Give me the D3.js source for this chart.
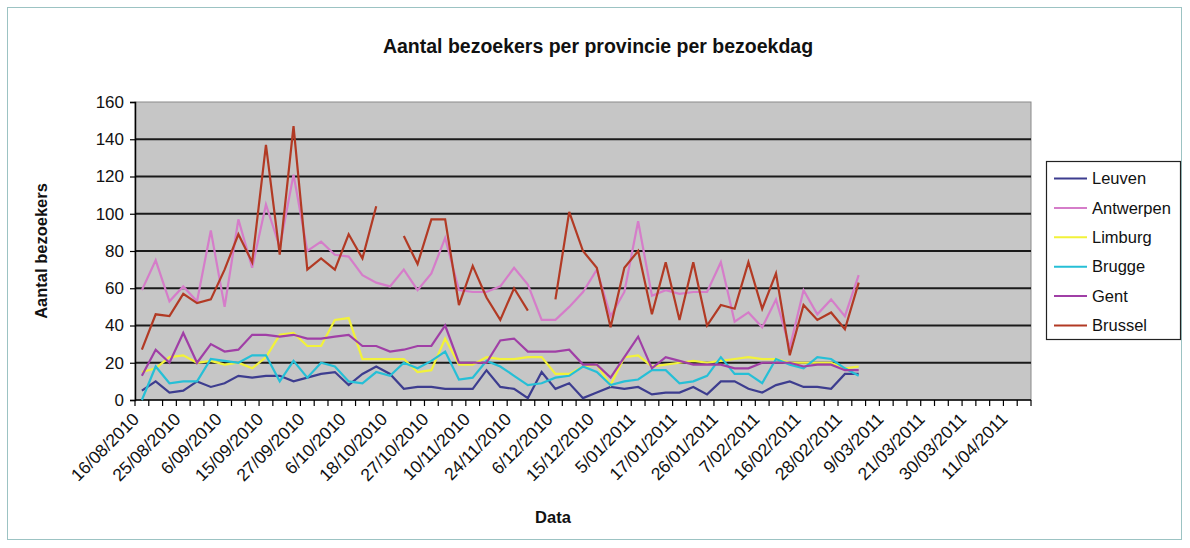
<!DOCTYPE html>
<html>
<head>
<meta charset="utf-8">
<script src="https://cdn.jsdelivr.net/npm/d3@7/dist/d3.min.js"></script>
<style>
  html, body { margin: 0; padding: 0; background: #ffffff; }
  svg { display: block; font-family: "Liberation Sans", Arial, sans-serif; }
</style>
</head>
<body>
<svg id="chart" width="1190" height="548"></svg>
<script>
// Visit days (one category per day)
const dates = [
  "16/08/2010","18/08/2010","23/08/2010","25/08/2010","30/08/2010","1/09/2010",
  "6/09/2010","8/09/2010","13/09/2010","15/09/2010","20/09/2010","22/09/2010",
  "27/09/2010","29/09/2010","4/10/2010","6/10/2010","11/10/2010","13/10/2010",
  "18/10/2010","20/10/2010","25/10/2010","27/10/2010","3/11/2010","8/11/2010",
  "10/11/2010","17/11/2010","22/11/2010","24/11/2010","29/11/2010","1/12/2010",
  "6/12/2010","8/12/2010","13/12/2010","15/12/2010","20/12/2010","3/01/2011",
  "5/01/2011","10/01/2011","12/01/2011","17/01/2011","19/01/2011","24/01/2011",
  "26/01/2011","31/01/2011","2/02/2011","7/02/2011","9/02/2011","14/02/2011",
  "16/02/2011","21/02/2011","23/02/2011","28/02/2011","2/03/2011","7/03/2011",
  "9/03/2011","14/03/2011","16/03/2011","21/03/2011","23/03/2011","28/03/2011",
  "30/03/2011","4/04/2011","6/04/2011","11/04/2011","13/04/2011"
];

// Visitors per province (null = no value that day)
const leuven = [5,10,4,5,10,7,9,13,12,13,13,10,12,14,15,8,14,18,14,6,7,7,6,6,6,16,7,6,1,15,6,9,1,4,7,6,7,3,4,4,7,3,10,10,6,4,8,10,7,7,6,14,14];
const antwerpen = [59,75,53,61,53,91,50,97,71,105,82,121,80,85,78,77,67,63,61,70,59,68,87,59,58,58,61,71,62,43,43,50,58,70,45,58,96,56,59,57,58,58,74,42,47,39,54,28,59,46,54,45,67];
const limburg = [15,17,23,24,20,21,19,20,17,23,35,36,29,29,43,44,22,22,22,22,15,16,33,19,19,23,22,22,23,23,14,14,18,19,8,23,24,18,19,20,21,20,21,22,23,22,22,20,20,20,20,17,18];
const brugge = [0,18,9,10,10,22,21,20,24,24,10,21,12,20,18,10,9,15,13,20,17,21,26,11,12,21,18,13,8,9,12,13,18,15,8,10,11,16,16,9,10,13,23,14,14,9,22,19,17,23,22,17,13];
const gent = [13,27,20,36,20,30,26,27,35,35,34,35,33,33,34,35,29,29,26,27,29,29,40,20,20,20,32,33,26,26,26,27,19,19,12,23,34,17,23,21,19,19,19,17,17,20,20,20,18,19,19,16,16];
const brussel = [27,46,45,57,52,54,70,89,74,137,78,147,70,76,70,89,76,104,null,88,73,97,97,51,72,55,43,60,48,null,54,101,80,71,39,71,80,46,74,43,74,40,51,49,74,49,68,24,51,43,47,38,63];

const seriesNames = ["Leuven","Antwerpen","Limburg","Brugge","Gent","Brussel"];
const seriesValues = [leuven, antwerpen, limburg, brugge, gent, brussel];
const seriesColors = ["#3d3d8f","#d57dc9","#f2f23a","#26bfd6","#a03fa6","#b23a24"];

const yTicks = [0,20,40,60,80,100,120,140,160];
const labelEvery = 3;

const svg = d3.select("#chart");

// outer frame
svg.append("rect")
  .attr("x", 7.5).attr("y", 7.5)
  .attr("width", 1174).attr("height", 532)
  .attr("fill", "#ffffff")
  .attr("stroke", "#9cc3c3").attr("stroke-width", 1);

const plot = { left: 135, right: 1031, top: 102, bottom: 400 };

const x = d3.scaleBand()
  .domain(dates)
  .range([plot.left, plot.right])
  .padding(0);

const y = d3.scaleLinear()
  .domain([0, 160])
  .range([plot.bottom, plot.top]);

// plot background
svg.append("rect")
  .attr("x", plot.left).attr("y", plot.top)
  .attr("width", plot.right - plot.left)
  .attr("height", plot.bottom - plot.top)
  .attr("fill", "#c6c6c6")
  .attr("stroke", "#8a8a8a").attr("stroke-width", 1);

// horizontal gridlines
svg.append("g")
  .selectAll("line")
  .data(yTicks.filter(v => v > 0 && v < 160))
  .join("line")
  .attr("x1", plot.left).attr("x2", plot.right)
  .attr("y1", d => y(d)).attr("y2", d => y(d))
  .attr("stroke", "#1a1a1a").attr("stroke-width", 2.2);

// y axis
const yAxis = svg.append("g")
  .attr("transform", `translate(${plot.left},0)`)
  .call(d3.axisLeft(y).tickValues(yTicks).tickSize(5).tickPadding(6).tickFormat(d3.format("d")));
yAxis.select(".domain").attr("stroke", "#000").attr("stroke-width", 1.5);
yAxis.selectAll(".tick line").attr("stroke", "#000").attr("stroke-width", 1.2);
yAxis.selectAll(".tick text")
  .attr("font-size", 17).attr("fill", "#111")
  .attr("font-family", "Liberation Sans, Arial, sans-serif");

// x axis: tick marks at category boundaries
const xg = svg.append("g");
xg.append("line")
  .attr("x1", plot.left).attr("x2", plot.right)
  .attr("y1", plot.bottom).attr("y2", plot.bottom)
  .attr("stroke", "#000").attr("stroke-width", 1.5);
const boundaries = dates.map(d => x(d)).concat([plot.right]);
xg.selectAll("line.tick")
  .data(boundaries)
  .join("line")
  .attr("class", "tick")
  .attr("x1", d => d).attr("x2", d => d)
  .attr("y1", plot.bottom).attr("y2", plot.bottom + 6)
  .attr("stroke", "#000").attr("stroke-width", 1.2);

// x tick labels, every third category, rotated
xg.selectAll("text")
  .data(dates.filter((d, i) => i % labelEvery === 0))
  .join("text")
  .attr("transform", d => `translate(${x(d) + x.bandwidth() / 2 - 6},${plot.bottom + 16}) rotate(-45)`)
  .attr("text-anchor", "end")
  .attr("dy", "0.35em")
  .attr("font-size", 17.5)
  .attr("fill", "#111")
  .text(d => d);

// series lines
const line = d3.line()
  .defined(v => v !== null)
  .x((v, i) => x(dates[i]) + x.bandwidth() / 2)
  .y(v => y(v));

svg.append("g")
  .selectAll("path")
  .data(seriesValues)
  .join("path")
  .attr("d", v => line(v))
  .attr("fill", "none")
  .attr("stroke", (v, i) => seriesColors[i])
  .attr("stroke-width", 2.2)
  .attr("stroke-linejoin", "miter");

// title
svg.append("text")
  .attr("x", 598).attr("y", 53)
  .attr("text-anchor", "middle")
  .attr("font-size", 19.5).attr("font-weight", "bold")
  .attr("fill", "#111")
  .text("Aantal bezoekers per provincie per bezoekdag");

// axis titles
svg.append("text")
  .attr("transform", "translate(47,251) rotate(-90)")
  .attr("text-anchor", "middle")
  .attr("font-size", 16.5).attr("font-weight", "bold")
  .attr("fill", "#111")
  .text("Aantal bezoekers");

svg.append("text")
  .attr("x", 553).attr("y", 523)
  .attr("text-anchor", "middle")
  .attr("font-size", 16.5).attr("font-weight", "bold")
  .attr("fill", "#111")
  .text("Data");

// legend
const legend = svg.append("g");
legend.append("rect")
  .attr("x", 1046.5).attr("y", 161.5)
  .attr("width", 134).attr("height", 178)
  .attr("fill", "#ffffff")
  .attr("stroke", "#222").attr("stroke-width", 1.2);
const items = legend.selectAll("g.item")
  .data(seriesNames)
  .join("g")
  .attr("class", "item")
  .attr("transform", (d, i) => `translate(0,${178.5 + i * 29.4})`);
items.append("line")
  .attr("x1", 1054).attr("x2", 1087)
  .attr("y1", 0).attr("y2", 0)
  .attr("stroke", (d, i) => seriesColors[i])
  .attr("stroke-width", 2);
items.append("text")
  .attr("x", 1092).attr("y", 0)
  .attr("dy", "0.35em")
  .attr("font-size", 16.5)
  .attr("fill", "#111")
  .text(d => d);
</script>
</body>
</html>
